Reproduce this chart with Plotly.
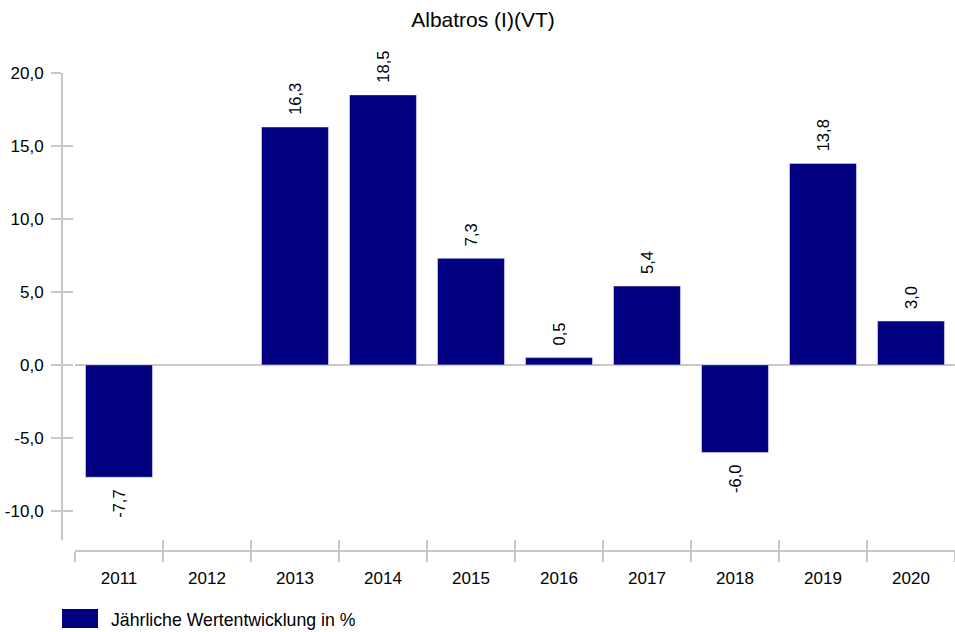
import plotly.graph_objects as go

years = ["2011", "2012", "2013", "2014", "2015", "2016", "2017", "2018", "2019", "2020"]
values = [-7.7, None, 16.3, 18.5, 7.3, 0.5, 5.4, -6.0, 13.8, 3.0]
y_ticks = [-10, -5, 0, 5, 10, 15, 20]
y_tick_labels = ["-10,0", "-5,0", "0,0", "5,0", "10,0", "15,0", "20,0"]
title_text = "Albatros (I)(VT)"
legend_text = "Jährliche Wertentwicklung in %"

NAVY = "#000080"
GRAY = "#c8c8c8"
FONT = "Liberation Sans, Arial, sans-serif"
PAD = "\u00a0\u00a0"


def bar_label(v):
    if v is None:
        return None
    s = f"{v:.1f}".replace(".", ",")
    return PAD + s if v >= 0 else s + PAD


W, H = 955, 632
ml, mr, mt, mb = 62, 0, 73, 81
pw, ph = W - ml - mr, H - mt - mb

fig = go.Figure()
fig.add_trace(go.Bar(
    x=years, y=values, marker_color=NAVY, width=0.76,
    text=[bar_label(v) for v in values],
    textposition="outside", textangle=-90, cliponaxis=False,
    constraintext="none",
    textfont=dict(size=16.5, color="black", family=FONT),
    showlegend=False, hoverinfo="x+y",
))
# invisible trace on overlay axes (for double-sided ticks)
fig.add_trace(go.Bar(x=years, y=[None] * len(years), xaxis="x2", yaxis="y2",
                     showlegend=False, hoverinfo="skip"))

xdom = [(75 - ml) / pw, 1]
ydom = [(mt + ph - 540) / ph, 1]
common_x = dict(domain=xdom, anchor="free", position=0, type="category",
                tickson="boundaries", ticklen=10, tickwidth=2, tickcolor=GRAY,
                showline=True, linecolor=GRAY, linewidth=2, showgrid=False,
                zeroline=False, range=[-0.5, 9.5], fixedrange=True,
                automargin=False)
common_y = dict(domain=ydom, anchor="free", position=0, range=[-12, 20],
                tickvals=y_ticks, ticklen=10, tickwidth=2, tickcolor=GRAY,
                showline=True, linecolor=GRAY, linewidth=2, showgrid=False,
                fixedrange=True, automargin=False)

fig.update_layout(
    width=W, height=H,
    margin=dict(l=ml, r=mr, t=mt, b=mb, autoexpand=False),
    paper_bgcolor="white", plot_bgcolor="white",
    separators=",.",
    font=dict(family=FONT, size=17, color="black"),
    title=dict(text=title_text, x=483 / W, xanchor="center", xref="container",
               y=1 - 20 / H, yanchor="middle", yref="container",
               font=dict(size=21, family=FONT, color="black")),
    bargap=0.24,
    showlegend=False,
    xaxis=dict(**common_x, ticks="outside", tickfont=dict(size=17),
               ticklabelstandoff=12),
    xaxis2=dict(**common_x, ticks="inside", showticklabels=False,
                overlaying="x", matches="x"),
    yaxis=dict(**common_y, ticks="outside", ticktext=y_tick_labels,
               tickfont=dict(size=17), ticklabelstandoff=4,
               zeroline=True, zerolinecolor=GRAY, zerolinewidth=2),
    yaxis2=dict(**common_y, ticks="inside", showticklabels=False,
                zeroline=False, overlaying="y", matches="y"),
)

# manual legend
fig.add_shape(type="rect", xref="paper", yref="paper",
              x0=0, x1=36 / pw, y0=(mt + ph - 609) / ph, y1=(mt + ph - 628) / ph,
              fillcolor=NAVY, line=dict(width=0))
fig.add_annotation(xref="paper", yref="paper", x=(109 - ml) / pw,
                   y=(mt + ph - 620) / ph, xanchor="left", yanchor="middle",
                   text=legend_text, showarrow=False,
                   font=dict(size=17.7, family=FONT, color="black"))

fig.write_html("out.html", config={"displayModeBar": False},
               post_script="document.body.style.margin='0';document.body.style.padding='0';")
